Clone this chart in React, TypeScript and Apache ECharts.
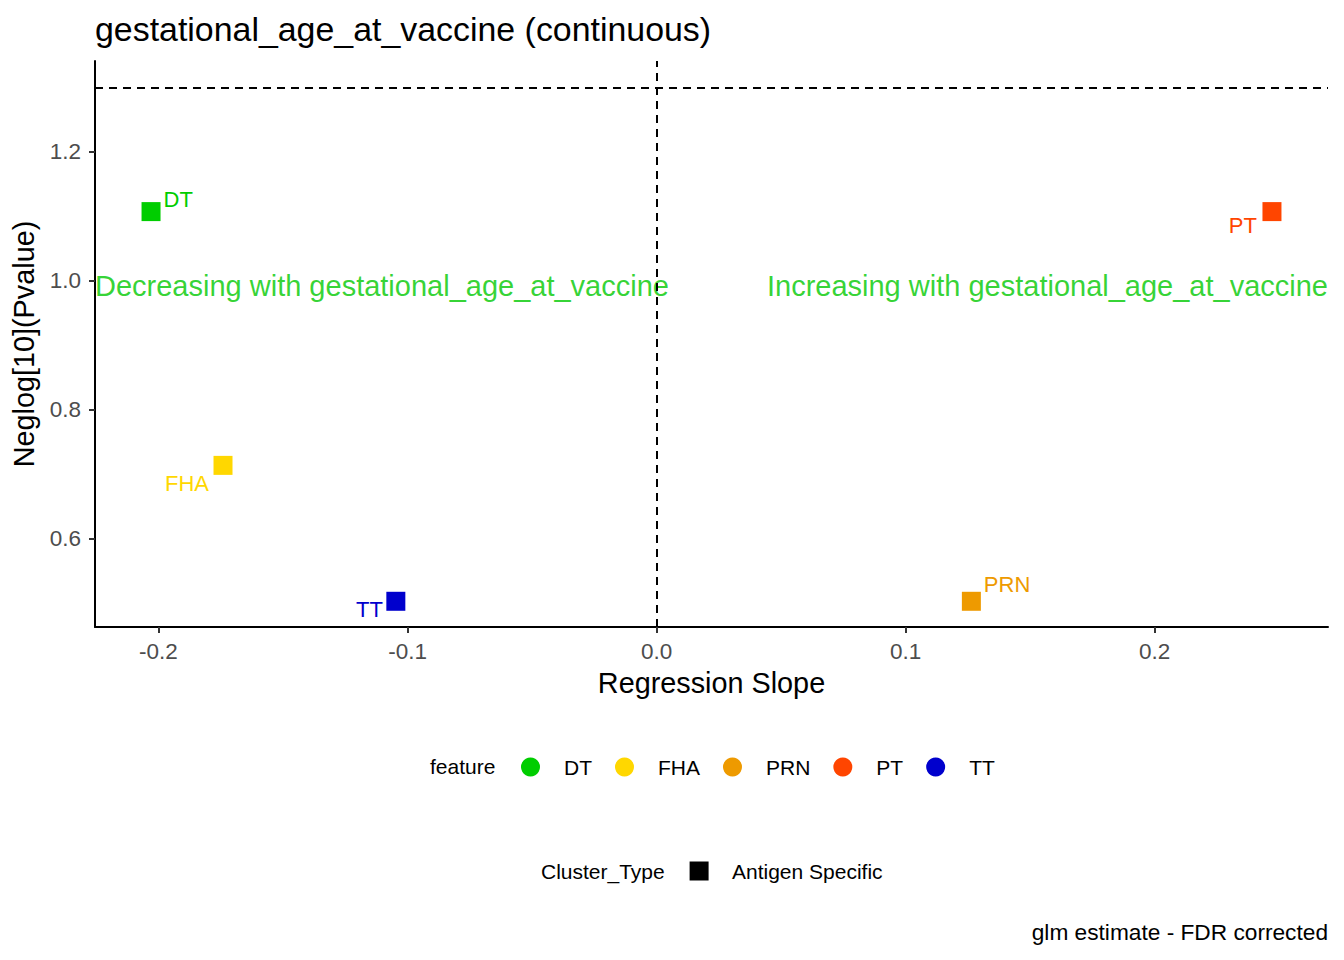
import React, { useEffect, useRef } from 'react';
import * as echarts from 'echarts';

// ---- data ----
const features = ['DT', 'FHA', 'PRN', 'PT', 'TT'];
const regressionSlope = [-0.203, -0.1741, 0.1264, 0.2471, -0.1047];
const neglogPvalue = [1.1073, 0.7135, 0.5026, 1.1073, 0.5026];
const featureColors = ['#00CD00', '#FFD700', '#EE9A00', '#FF4500', '#0000CD'];
const clusterTypes = ['Antigen Specific'];
const xTickValues = [-0.2, -0.1, 0, 0.1, 0.2];
const yTickValues = [0.6, 0.8, 1.0, 1.2];
const xLimits = [-0.2255, 0.2696];
const yLimits = [0.4627, 1.341];
const slopeZero = 0;
const significanceLine = 1.30103; // -log10(0.05)
const annotationY = 1.0;
const annotationTexts = [
  'Decreasing with gestational_age_at_vaccine',
  'Increasing with gestational_age_at_vaccine',
];

// ---- styling ----
const FONT = '"Liberation Sans", Arial, Helvetica, sans-serif';
const ANNOTATION_GREEN = '#00C800';
const labelPlacement: Record<string, { align: string; offset: number[] }> = {
  DT: { align: 'left', offset: [12.5, -12] },
  FHA: { align: 'right', offset: [-14, 18] },
  PRN: { align: 'left', offset: [12.5, -16.3] },
  PT: { align: 'right', offset: [-15, 13.5] },
  TT: { align: 'right', offset: [-13, 8] },
};

function buildOption() {
  const pointSeries = features.map((f, i) => ({
    type: 'scatter',
    name: f,
    symbol: 'rect',
    symbolSize: 19,
    clip: false,
    itemStyle: { color: featureColors[i], opacity: 1 },
    data: [[regressionSlope[i], neglogPvalue[i]]],
    label: {
      show: true,
      formatter: f,
      position: 'inside',
      align: labelPlacement[f].align,
      verticalAlign: 'middle',
      offset: labelPlacement[f].offset,
      color: featureColors[i],
      fontSize: 22,
      fontFamily: FONT,
    },
    z: 3,
  }));

  const annotationSeries = {
    type: 'scatter',
    name: '__annotations',
    symbolSize: 1,
    clip: false,
    silent: true,
    itemStyle: { color: 'transparent' },
    data: [
      {
        value: [xLimits[0], annotationY],
        label: { formatter: annotationTexts[0], align: 'left' },
      },
      {
        value: [xLimits[1], annotationY],
        label: { formatter: annotationTexts[1], align: 'right' },
      },
    ],
    label: {
      show: true,
      position: 'inside',
      verticalAlign: 'middle',
      offset: [0, 5],
      color: ANNOTATION_GREEN,
      fontSize: 29,
      fontFamily: FONT,
    },
    markLine: {
      silent: true,
      symbol: ['none', 'none'],
      label: { show: false },
      lineStyle: { color: '#000', type: [8, 6], width: 2 },
      data: [{ xAxis: slopeZero }, { yAxis: significanceLine }],
    },
    z: 2,
  };

  const clusterSeries = clusterTypes.map((c) => ({
    type: 'scatter',
    name: c,
    symbol: 'rect',
    itemStyle: { color: '#000000' },
    data: [],
  }));

  const legendText = (pad: number) => ({
    rich: {
      t: {
        padding: [0, 0, 0, pad],
        fontSize: 21,
        lineHeight: 19,
        color: '#000',
        fontFamily: FONT,
      },
    },
  });

  return {
    animation: false,
    backgroundColor: '#fff',
    textStyle: { fontFamily: FONT },
    title: [
      {
        text: 'gestational_age_at_vaccine (continuous)',
        left: 95,
        top: 12,
        padding: 0,
        textStyle: { fontSize: 33.9, lineHeight: 34, fontWeight: 'normal', color: '#000', fontFamily: FONT },
      },
      {
        text: 'feature',
        left: 430,
        top: 756,
        padding: 0,
        textStyle: { fontSize: 21, lineHeight: 21, fontWeight: 'normal', color: '#000', fontFamily: FONT },
      },
      {
        text: 'Cluster_Type',
        left: 541,
        top: 860.5,
        padding: 0,
        textStyle: { fontSize: 21, lineHeight: 21, fontWeight: 'normal', color: '#000', fontFamily: FONT },
      },
      {
        text: 'glm estimate - FDR corrected',
        right: 16,
        top: 921,
        padding: 0,
        textStyle: { fontSize: 22.7, lineHeight: 22.7, fontWeight: 'normal', color: '#000', fontFamily: FONT },
      },
    ],
    legend: [
      {
        data: features.map((f) => ({ name: f, icon: 'circle' })),
        left: 521,
        top: 756.5,
        orient: 'horizontal',
        itemWidth: 19,
        itemHeight: 19,
        itemGap: 23,
        padding: 0,
        selectedMode: false,
        formatter: (n: string) => `{t|${n}}`,
        textStyle: legendText(19),
      },
      {
        data: clusterTypes.map((c) => ({
          name: c,
          icon: 'rect',
          itemStyle: { color: '#000000', borderWidth: 0, opacity: 1 },
        })),
        left: 689.6,
        top: 860.5,
        orient: 'horizontal',
        itemWidth: 19,
        itemHeight: 19,
        padding: 0,
        selectedMode: false,
        formatter: (n: string) => `{t|${n}}`,
        textStyle: legendText(18.4),
      },
    ],
    grid: { left: 95, right: 16, top: 61, bottom: 333, containLabel: false },
    xAxis: {
      type: 'value',
      min: xLimits[0],
      max: xLimits[1],
      position: 'bottom',
      name: 'Regression Slope',
      nameLocation: 'middle',
      nameGap: 41,
      nameTextStyle: { fontSize: 28.8, color: '#000', fontFamily: FONT },
      axisLine: { show: true, onZero: false, lineStyle: { color: '#000', width: 2 } },
      axisTick: { show: true, length: 6, customValues: xTickValues, lineStyle: { color: '#333', width: 2 } },
      axisLabel: {
        customValues: xTickValues,
        formatter: (v: number) => v.toFixed(1),
        fontSize: 22.5,
        color: '#4D4D4D',
        margin: 13,
        fontFamily: FONT,
      },
      splitLine: { show: false },
    },
    yAxis: {
      type: 'value',
      min: yLimits[0],
      max: yLimits[1],
      position: 'left',
      name: 'Neglog[10](Pvalue)',
      nameLocation: 'middle',
      nameGap: 48,
      nameTextStyle: { fontSize: 28.8, color: '#000', fontFamily: FONT },
      axisLine: { show: true, onZero: false, lineStyle: { color: '#000', width: 2 } },
      axisTick: { show: true, length: 6, customValues: yTickValues, lineStyle: { color: '#333', width: 2 } },
      axisLabel: {
        customValues: yTickValues,
        formatter: (v: number) => v.toFixed(1),
        fontSize: 22.5,
        color: '#4D4D4D',
        margin: 14,
        fontFamily: FONT,
      },
      splitLine: { show: false },
    },
    series: [annotationSeries, ...pointSeries, ...clusterSeries],
  };
}

export default function App() {
  const ref = useRef<HTMLDivElement>(null);
  useEffect(() => {
    if (!ref.current) return;
    const chart = echarts.init(ref.current, null, { renderer: 'svg' });
    chart.setOption(buildOption() as any);
    return () => chart.dispose();
  }, []);
  return (
    <div
      ref={ref}
      style={{ position: 'fixed', left: 0, top: 0, width: 1344, height: 960, background: '#fff' }}
    />
  );
}
